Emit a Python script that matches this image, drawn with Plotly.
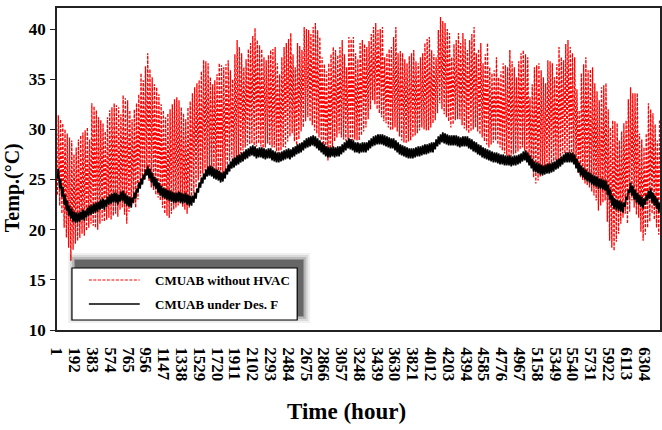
import plotly.graph_objects as go

# ---------------- data ----------------
# hourly simulation, one oscillation per day; daily extremes per series
red_max = [
    31.4, 31.0, 30.6, 30.0, 29.6, 29.2, 28.9, 27.5, 28.2, 29.0,
    29.4, 29.7, 29.9, 30.2, 29.0, 32.6, 32.3, 31.9, 31.2, 30.9,
    30.6, 29.8, 31.2, 31.9, 32.2, 32.6, 32.4, 32.2, 31.5, 33.4,
    33.1, 32.9, 31.9, 31.0, 32.0, 32.6, 33.5, 35.6, 34.9, 36.3,
    37.6, 36.0, 35.2, 34.5, 34.2, 33.5, 32.5, 31.9, 31.2, 31.6,
    32.0, 32.5, 33.0, 33.2, 32.9, 32.2, 31.6, 31.0, 32.2, 32.8,
    33.6, 34.2, 34.6, 34.9, 35.8, 36.9, 36.8, 36.6, 35.2, 34.5,
    34.9, 35.5, 36.6, 36.4, 36.2, 36.5, 36.9, 35.9, 35.0, 37.5,
    38.9, 38.2, 37.6, 36.2, 37.0, 38.0, 38.6, 39.3, 40.1, 38.9,
    38.4, 38.0, 37.2, 36.9, 37.4, 37.9, 38.0, 38.2, 36.6, 35.5,
    37.2, 38.2, 38.6, 39.0, 39.6, 37.5, 36.2, 38.6, 38.3, 37.9,
    40.2, 40.0, 39.9, 39.5, 40.2, 40.6, 39.9, 39.2, 37.2, 36.5,
    35.8, 36.6, 37.5, 38.2, 37.9, 37.4, 38.2, 38.9, 37.5, 36.2,
    39.2, 39.0, 39.2, 37.6, 37.0, 38.6, 38.9, 38.5, 38.2, 38.8,
    39.5, 40.2, 40.6, 39.9, 40.0, 40.2, 37.2, 37.6, 38.0, 38.2,
    39.2, 40.2, 37.6, 37.8, 37.6, 37.0, 36.6, 37.3, 37.6, 37.9,
    36.8, 36.6, 37.2, 37.6, 38.6, 39.0, 39.2, 37.9, 37.5, 37.2,
    39.9, 41.2, 40.8, 40.6, 40.0, 39.6, 37.2, 38.5, 38.9, 39.6,
    38.6, 39.6, 39.0, 37.9, 38.9, 39.5, 40.2, 37.6, 38.0, 38.6,
    36.6, 37.5, 38.6, 36.2, 35.6, 35.9, 37.2, 35.2, 35.8, 36.6,
    36.4, 36.2, 37.9, 36.8, 36.2, 35.2, 36.8, 37.6, 37.9, 37.5,
    37.2, 33.2, 34.5, 36.2, 36.4, 36.6, 35.9, 35.2, 34.6, 36.9,
    36.8, 36.6, 35.2, 36.5, 38.2, 37.2, 36.9, 38.5, 38.9, 38.2,
    37.6, 37.2, 34.0, 31.9, 35.6, 36.5, 37.2, 35.9, 36.0, 36.2,
    34.6, 33.8, 32.9, 34.2, 34.4, 34.6, 32.0, 30.2, 30.9, 30.8,
    30.6, 28.9, 29.8, 30.6, 30.9, 33.0, 34.2, 33.6, 33.6, 33.6,
    29.6, 29.0, 28.2, 29.6, 32.6, 32.0, 31.6, 30.5, 28.9, 30.9,
]
red_min = [
    23.5, 22.4, 21.6, 20.2, 19.2, 18.2, 16.9, 18.0, 18.6, 18.9,
    19.2, 19.6, 19.4, 19.9, 20.2, 20.6, 20.4, 20.2, 20.0, 20.6,
    20.9, 20.8, 21.0, 21.2, 21.0, 21.4, 21.6, 21.3, 22.0, 22.2,
    21.5, 20.6, 21.8, 22.4, 22.6, 22.2, 23.0, 24.2, 24.6, 25.0,
    25.6, 24.8, 24.2, 23.9, 23.5, 23.2, 22.9, 22.2, 21.6, 21.4,
    21.2, 21.6, 22.0, 22.2, 22.4, 22.6, 22.3, 22.0, 21.6, 22.2,
    22.9, 23.6, 24.2, 24.9, 25.3, 25.6, 25.9, 26.0, 26.1, 26.2,
    25.8, 25.5, 25.2, 25.4, 25.5, 25.6, 26.2, 26.8, 27.2, 27.0,
    27.2, 27.2, 27.6, 27.9, 28.2, 28.4, 28.5, 28.6, 28.4, 28.3,
    28.6, 28.3, 27.9, 28.2, 28.6, 28.4, 28.2, 28.2, 27.8, 27.6,
    27.9, 28.2, 28.2, 28.8, 29.3, 29.6, 28.8, 28.2, 29.0, 29.8,
    30.2, 30.8, 31.2, 30.8, 30.4, 29.9, 29.6, 29.2, 28.9, 28.0,
    27.5, 26.9, 27.6, 28.2, 28.8, 29.2, 29.6, 29.2, 29.0, 28.9,
    29.0, 28.9, 28.9, 29.0, 28.9, 28.9, 29.4, 29.8, 30.2, 31.0,
    32.0, 32.9, 32.5, 32.0, 31.6, 31.2, 30.8, 30.6, 30.2, 29.9,
    30.0, 30.2, 29.8, 29.3, 28.9, 28.7, 28.6, 28.8, 28.9, 29.2,
    29.4, 29.6, 29.9, 30.2, 30.0, 29.9, 29.9, 30.2, 30.6, 30.9,
    31.6, 32.6, 32.0, 31.5, 31.2, 30.8, 30.2, 30.5, 30.9, 31.0,
    31.0, 30.4, 30.1, 29.9, 29.6, 29.8, 30.0, 30.2, 29.8, 29.5,
    29.2, 28.8, 28.5, 28.2, 28.5, 28.7, 28.9, 28.5, 28.2, 27.9,
    27.6, 27.4, 27.2, 27.3, 27.5, 27.6, 27.8, 28.0, 28.2, 27.9,
    27.5, 27.2, 26.2, 25.2, 24.6, 24.9, 25.3, 25.6, 25.8, 26.0,
    26.2, 26.4, 26.6, 26.9, 26.8, 26.6, 27.6, 27.6, 27.6, 27.6,
    27.0, 26.6, 26.2, 25.6, 25.2, 24.9, 24.6, 24.4, 24.2, 23.8,
    23.4, 22.9, 21.9, 22.4, 22.7, 22.9, 20.8, 18.9, 18.2, 17.9,
    18.8, 19.6, 20.6, 21.2, 21.6, 20.6, 21.8, 22.9, 22.2, 21.5,
    21.2, 19.8, 18.9, 19.5, 20.2, 20.8, 21.6, 21.0, 20.2, 19.5,
]
black_max = [
    26.1, 25.1, 24.3, 23.5, 22.9, 22.4, 22.1, 21.8, 21.7, 21.7,
    21.8, 22.0, 21.9, 22.2, 22.4, 22.5, 22.6, 22.7, 22.8, 23.0,
    23.1, 23.0, 23.3, 23.5, 23.6, 23.7, 23.7, 23.5, 23.8, 23.9,
    23.6, 23.4, 23.3, 23.2, 23.7, 24.1, 24.7, 25.1, 25.5, 26.0,
    26.4, 26.1, 25.7, 25.3, 25.1, 24.7, 24.4, 24.2, 24.1, 24.0,
    23.9, 23.8, 23.7, 23.7, 23.8, 23.7, 23.6, 23.7, 23.5, 23.4,
    23.4, 23.7, 24.1, 24.7, 25.2, 25.6, 26.0, 26.3, 26.4, 26.3,
    26.1, 26.0, 25.9, 25.7, 25.8, 26.1, 26.5, 26.8, 27.1, 27.2,
    27.4, 27.5, 27.7, 27.8, 28.0, 28.1, 28.3, 28.4, 28.3, 28.1,
    28.2, 28.2, 28.1, 28.0, 28.1, 28.1, 27.9, 27.8, 27.7, 27.7,
    27.8, 27.9, 28.0, 28.1, 28.0, 28.2, 28.3, 28.5, 28.6, 28.7,
    28.9, 29.1, 29.2, 29.3, 29.4, 29.3, 29.1, 28.9, 28.7, 28.5,
    28.3, 28.2, 28.2, 28.3, 28.2, 28.3, 28.3, 28.5, 28.7, 28.9,
    29.1, 29.0, 28.9, 28.7, 28.7, 28.6, 28.7, 28.7, 28.7, 28.9,
    29.1, 29.3, 29.4, 29.5, 29.5, 29.5, 29.4, 29.3, 29.2, 29.1,
    29.1, 28.9, 28.7, 28.5, 28.4, 28.3, 28.2, 28.1, 28.1, 28.1,
    28.2, 28.3, 28.3, 28.4, 28.5, 28.5, 28.6, 28.7, 28.7, 29.0,
    29.3, 29.5, 29.7, 29.6, 29.5, 29.4, 29.4, 29.4, 29.4, 29.3,
    29.2, 29.3, 29.3, 29.3, 29.1, 29.0, 28.8, 28.7, 28.5, 28.4,
    28.2, 28.1, 28.0, 27.9, 27.8, 27.7, 27.7, 27.6, 27.5, 27.5,
    27.4, 27.4, 27.4, 27.3, 27.4, 27.4, 27.5, 27.6, 27.8, 27.9,
    27.7, 27.4, 27.1, 26.8, 26.7, 26.6, 26.5, 26.4, 26.5, 26.6,
    26.6, 26.7, 26.8, 27.0, 27.1, 27.3, 27.5, 27.7, 27.7, 27.7,
    27.7, 27.5, 27.1, 26.7, 26.4, 26.2, 26.0, 25.8, 25.7, 25.5,
    25.4, 25.3, 25.1, 25.1, 25.0, 24.9, 24.5, 24.0, 23.4, 23.1,
    23.0, 22.9, 22.8, 22.7, 23.3, 24.0, 24.7, 24.4, 24.0, 23.7,
    23.5, 23.3, 23.1, 23.5, 23.9, 24.1, 23.7, 23.4, 23.1, 22.7,
]
black_min = [
    25.1, 24.1, 23.3, 22.5, 21.9, 21.4, 21.1, 20.8, 20.7, 20.7,
    20.8, 21.0, 20.9, 21.2, 21.4, 21.5, 21.6, 21.7, 21.8, 22.0,
    22.1, 22.0, 22.3, 22.5, 22.6, 22.7, 22.7, 22.5, 22.8, 22.9,
    22.6, 22.4, 22.3, 22.2, 22.7, 23.1, 23.7, 24.1, 24.5, 25.0,
    25.4, 25.1, 24.7, 24.3, 24.1, 23.7, 23.4, 23.2, 23.1, 23.0,
    22.9, 22.8, 22.7, 22.7, 22.8, 22.7, 22.6, 22.7, 22.5, 22.4,
    22.4, 22.7, 23.1, 23.7, 24.2, 24.6, 25.0, 25.3, 25.4, 25.3,
    25.1, 25.0, 24.9, 24.7, 24.8, 25.1, 25.5, 25.8, 26.1, 26.2,
    26.4, 26.5, 26.7, 26.8, 27.0, 27.1, 27.3, 27.4, 27.3, 27.1,
    27.2, 27.2, 27.1, 27.0, 27.1, 27.1, 26.9, 26.8, 26.7, 26.7,
    26.8, 26.9, 27.0, 27.1, 27.0, 27.2, 27.3, 27.5, 27.6, 27.7,
    27.9, 28.1, 28.2, 28.3, 28.4, 28.3, 28.1, 27.9, 27.7, 27.5,
    27.3, 27.2, 27.2, 27.3, 27.2, 27.3, 27.3, 27.5, 27.7, 27.9,
    28.1, 28.0, 27.9, 27.7, 27.7, 27.6, 27.7, 27.7, 27.7, 27.9,
    28.1, 28.3, 28.4, 28.5, 28.5, 28.5, 28.4, 28.3, 28.2, 28.1,
    28.1, 27.9, 27.7, 27.5, 27.4, 27.3, 27.2, 27.1, 27.1, 27.1,
    27.2, 27.3, 27.3, 27.4, 27.5, 27.5, 27.6, 27.7, 27.7, 28.0,
    28.3, 28.5, 28.7, 28.6, 28.5, 28.4, 28.4, 28.4, 28.4, 28.3,
    28.2, 28.3, 28.3, 28.3, 28.1, 28.0, 27.8, 27.7, 27.5, 27.4,
    27.2, 27.1, 27.0, 26.9, 26.8, 26.7, 26.7, 26.6, 26.5, 26.5,
    26.4, 26.4, 26.4, 26.3, 26.4, 26.4, 26.5, 26.6, 26.8, 26.9,
    26.7, 26.4, 26.1, 25.8, 25.7, 25.6, 25.5, 25.4, 25.5, 25.6,
    25.6, 25.7, 25.8, 26.0, 26.1, 26.3, 26.5, 26.7, 26.7, 26.7,
    26.7, 26.5, 26.1, 25.7, 25.4, 25.2, 25.0, 24.8, 24.7, 24.5,
    24.4, 24.3, 24.1, 24.1, 24.0, 23.9, 23.5, 23.0, 22.4, 22.1,
    22.0, 21.9, 21.8, 21.7, 22.3, 23.0, 23.7, 23.4, 23.0, 22.7,
    22.5, 22.3, 22.1, 22.5, 22.9, 23.1, 22.7, 22.4, 22.1, 21.7,
]
x_tick_labels = [1, 192, 383, 574, 765, 956, 1147, 1338, 1529, 1720, 1911,
                 2102, 2293, 2484, 2675, 2866, 3057, 3248, 3439, 3630, 3821,
                 4012, 4203, 4394, 4585, 4776, 4967, 5158, 5349, 5540, 5731,
                 5922, 6113, 6304]
y_tick_values = [10, 15, 20, 25, 30, 35, 40]
series_names = ["CMUAB without HVAC", "CMUAB under Des. F"]

# hour of day at which the daily low / high occurs
HOUR_LOW, HOUR_HIGH = 6, 15


def zigzag(lows, highs):
    xs, ys = [], []
    for d, (lo, hi) in enumerate(zip(lows, highs)):
        xs += [24 * d + HOUR_LOW, 24 * d + HOUR_HIGH]
        ys += [lo, hi]
    return xs, ys


rx, ry = zigzag(red_min, red_max)
bx, by = zigzag(black_min, black_max)

W, H = 662, 430
L, R, T, B = 57, 0, 8, 100
PW, PH = W - L - R, H - T - B


def px(xp):
    return (xp - L) / PW


def py(yp):
    return (H - B - yp) / PH


SERIF = "Liberation Serif, Times New Roman, serif"

fig = go.Figure()
fig.add_trace(go.Scatter(x=rx, y=ry, mode="lines", name=series_names[0],
                         line=dict(color="#ff0000", width=1.3, dash="3px,1.5px"),
                         showlegend=False))
fig.add_trace(go.Scatter(x=bx, y=by, mode="lines", name=series_names[1],
                         line=dict(color="#000000", width=1.7),
                         showlegend=False))

shapes = []
# legend shadow (soft, offset up/right)
bx0, bx1, by0, by1 = 72, 298, 268, 320
for grow, op in [(7, 0.06), (5, 0.09), (3, 0.14), (1, 0.22), (0, 0.3)]:
    shapes.append(dict(type="rect", xref="paper", yref="paper",
                       x0=px(bx0 + 3 - grow), x1=px(bx1 + 6 + grow),
                       y0=py(by1 - 4 + grow), y1=py(by0 - 8 - grow),
                       fillcolor=f"rgba(0,0,0,{op})", line=dict(width=0),
                       layer="above"))
shapes.append(dict(type="rect", xref="paper", yref="paper",
                   x0=px(bx0), x1=px(bx1), y0=py(by1), y1=py(by0),
                   fillcolor="white", line=dict(color="black", width=1.2),
                   layer="above"))
shapes.append(dict(type="line", xref="paper", yref="paper",
                   x0=px(89), x1=px(140), y0=py(280), y1=py(280),
                   line=dict(color="#ff0000", width=1.2, dash="3px,1.5px"),
                   layer="above"))
shapes.append(dict(type="line", xref="paper", yref="paper",
                   x0=px(89), x1=px(140), y0=py(304), y1=py(304),
                   line=dict(color="black", width=1.3), layer="above"))

annotations = [
    dict(text=series_names[0], xref="paper", yref="paper", x=px(153), y=py(280),
         xanchor="left", yanchor="middle", showarrow=False,
         font=dict(family=SERIF, size=13, color="black", weight="bold")),
    dict(text=series_names[1], xref="paper", yref="paper", x=px(153), y=py(304),
         xanchor="left", yanchor="middle", showarrow=False,
         font=dict(family=SERIF, size=13, color="black", weight="bold")),
    dict(text="Time (hour)", xref="paper", yref="paper", x=px(347), y=py(411),
         xanchor="center", yanchor="middle", showarrow=False,
         font=dict(family=SERIF, size=23, color="black", weight="bold")),
    dict(text="Temp.(°C)", xref="paper", yref="paper", x=px(13), y=py(188),
         xanchor="center", yanchor="middle", showarrow=False, textangle=-90,
         font=dict(family=SERIF, size=20, color="black", weight="bold")),
]

fig.update_layout(
    width=W, height=H,
    margin=dict(l=L, r=R, t=T, b=B, pad=0),
    paper_bgcolor="white", plot_bgcolor="white",
    showlegend=False,
    shapes=shapes, annotations=annotations,
    xaxis=dict(range=[1, 1 + PW / 0.09345], tickmode="array",
               tickvals=x_tick_labels, ticktext=[str(v) for v in x_tick_labels],
               tickangle=90, ticks="", showgrid=False, zeroline=False,
               showline=True, linecolor="#222", linewidth=1.6, mirror=True,
               ticklabelstandoff=12,
               tickfont=dict(family=SERIF, size=17, color="black", weight="bold")),
    yaxis=dict(range=[10, 42.1], tickmode="array", tickvals=y_tick_values,
               ticks="outside", ticklen=5, tickcolor="#222", tickwidth=1,
               showgrid=False, zeroline=False, ticklabelstandoff=1,
               showline=True, linecolor="#222", linewidth=1.6, mirror=True,
               tickfont=dict(family=SERIF, size=17, color="black", weight="bold")),
)

fig.write_html("out.html")
